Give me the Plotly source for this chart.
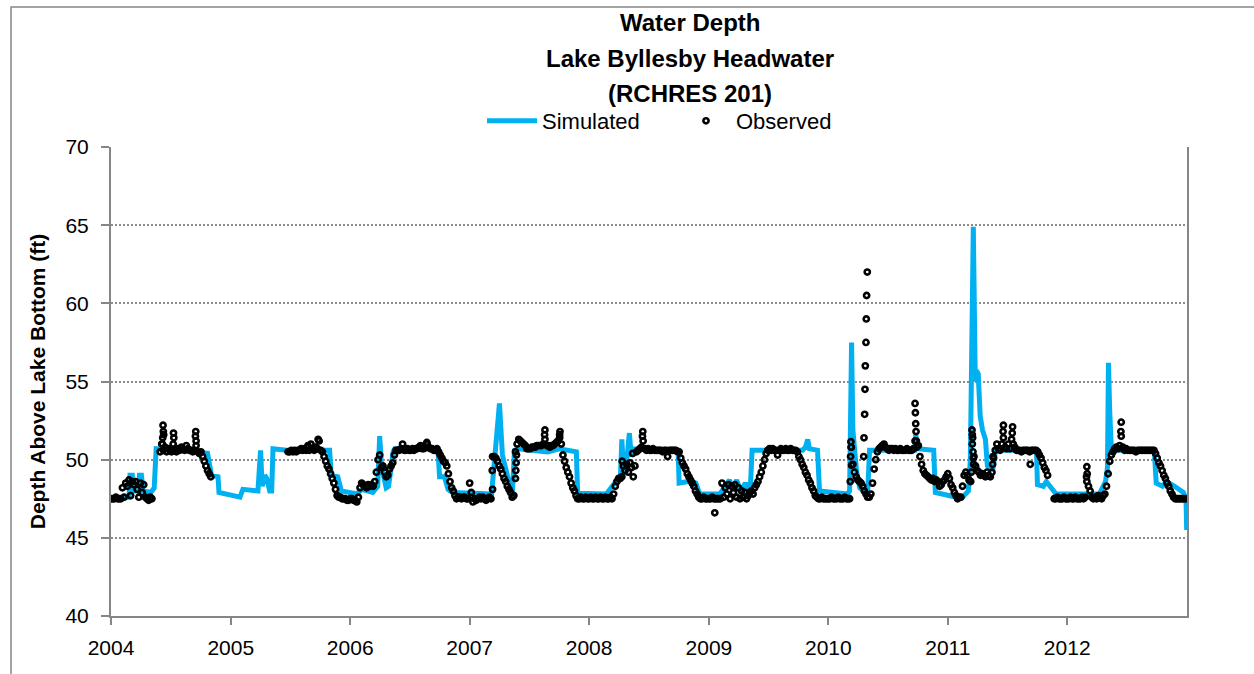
import pandas as pd
import plotly.graph_objects as go

# ---------------- data ----------------
year_labels = ["2004", "2005", "2006", "2007", "2008", "2009", "2010", "2011", "2012"]
title_lines = ["Water Depth", "Lake Byllesby Headwater", "(RCHRES 201)"]

sim_dates = [
    "2004-01-01", "2004-02-25", "2004-02-28", "2004-03-06", "2004-03-09", "2004-03-25", "2004-03-28",
    "2004-04-03", "2004-04-08", "2004-05-02", "2004-05-12", "2004-05-18", "2004-07-15", "2004-09-30",
    "2004-10-22", "2004-11-03", "2004-11-23", "2004-11-26",
    "2005-01-29", "2005-02-07", "2005-03-25", "2005-04-02", "2005-04-07", "2005-04-15", "2005-04-21",
    "2005-04-30", "2005-05-06", "2005-05-10", "2005-06-20", "2005-10-30", "2005-11-04", "2005-11-24",
    "2005-12-05",
    "2006-01-21", "2006-02-05", "2006-03-11", "2006-03-26", "2006-04-01", "2006-04-07", "2006-04-21",
    "2006-04-28", "2006-05-07", "2006-05-12", "2006-05-17", "2006-09-26", "2006-10-01", "2006-10-16",
    "2006-10-27", "2006-11-10",
    "2007-03-09", "2007-03-18", "2007-04-02", "2007-04-11", "2007-04-27", "2007-05-11", "2007-05-18",
    "2007-05-28", "2007-08-27", "2007-10-02", "2007-11-23", "2007-11-27",
    "2008-02-23", "2008-03-12", "2008-03-24", "2008-04-06", "2008-04-10", "2008-04-15", "2008-04-24",
    "2008-05-03", "2008-05-09", "2008-05-15", "2008-09-29", "2008-10-02", "2008-10-28", "2008-11-03",
    "2008-11-22", "2008-12-04",
    "2009-02-03", "2009-02-18", "2009-03-05", "2009-03-14", "2009-03-27", "2009-04-08", "2009-04-23",
    "2009-05-02", "2009-05-08", "2009-05-13", "2009-10-14", "2009-10-23", "2009-10-30", "2009-11-04",
    "2009-11-29", "2009-12-05",
    "2010-03-01", "2010-03-07", "2010-03-13", "2010-03-17", "2010-03-28", "2010-04-07", "2010-04-22",
    "2010-05-01", "2010-05-07", "2010-09-22", "2010-09-25", "2010-10-01", "2010-11-19", "2010-11-24",
    "2011-01-27", "2011-02-15", "2011-03-05", "2011-03-11", "2011-03-20", "2011-03-26", "2011-03-29",
    "2011-04-04", "2011-04-10", "2011-04-17", "2011-04-26", "2011-05-02", "2011-05-18", "2011-05-27",
    "2011-09-29", "2011-10-02", "2011-10-20", "2011-10-29", "2011-11-13", "2011-11-28",
    "2012-04-08", "2012-04-21", "2012-04-27", "2012-05-03", "2012-05-06", "2012-05-10", "2012-05-15",
    "2012-09-23", "2012-09-29", "2012-10-18", "2012-10-30", "2012-11-24", "2012-12-21", "2012-12-29",
    "2012-12-31",
]
sim_vals = [
    47.5, 47.6, 49.0, 49.0, 48.0, 48.0, 49.0,
    49.0, 48.0, 47.9, 48.2, 50.7, 50.6, 50.5,
    50.4, 49.0, 48.9, 47.9,
    47.6, 48.1, 48.0, 50.6, 48.3, 49.0, 48.8,
    48.0, 48.0, 50.7, 50.6, 50.6, 49.0, 48.9,
    48.0,
    47.8, 48.1, 47.9, 48.3, 51.5, 49.5, 48.2,
    48.3, 49.6, 50.5, 50.7, 50.7, 48.9, 48.9,
    48.1, 47.9,
    47.8, 50.2, 53.6, 50.3, 48.9, 47.7, 50.6,
    50.7, 50.5, 50.7, 50.5, 47.85,
    47.8, 48.3, 48.7, 49.0, 51.3, 49.3, 49.7,
    51.7, 50.2, 50.7, 50.6, 48.5, 48.6, 48.7,
    48.5, 47.8,
    47.8, 48.2, 48.7, 48.0, 48.7, 48.0, 48.5,
    48.1, 48.3, 50.6, 50.6, 50.8, 51.3, 50.7,
    50.6, 48.0,
    47.8, 48.0, 57.5, 51.9, 49.3, 48.2, 47.9,
    47.8, 50.6, 50.6, 51.6, 50.7, 50.6, 47.9,
    47.6, 47.6, 48.0, 50.0, 64.9, 55.0, 55.7,
    55.5, 52.8, 51.9, 51.3, 49.6, 49.3, 50.6,
    50.6, 48.4, 48.3, 48.6, 48.2, 47.8,
    47.8, 48.3, 48.6, 49.5, 56.2, 53.0, 50.6,
    50.6, 48.5, 48.3, 48.6, 48.3, 47.9, 47.5,
    45.5,
]

# Observed depth, one reading every 5 days from each start date
obs_2004a_start = "2004-01-01"
obs_2004a = [47.5, 47.5, 47.5, 47.6, 47.5, 47.5, 47.5, 48.2, 47.6, 48.5,
             48.3, 48.7, 47.7, 48.6, 48.4, 48.6, 48.1, 47.6, 48.5, 47.9,
             48.4, 47.6, 47.5, 47.4, 47.6, 47.5]
obs_2004b_start = "2004-05-30"
obs_2004b = [50.5, 51.0, 50.6, 50.8, 50.5, 50.7, 50.6, 50.5, 51.0, 50.6,
             50.5, 50.7, 50.6, 50.8, 50.7, 50.6, 50.9, 50.7, 50.6, 50.6,
             50.5, 50.6, 50.9, 50.5, 50.4, 50.5, 50.2, 49.9, 49.6, 49.3,
             49.1, 48.9]
obs_2005_start = "2005-06-25"
obs_2005 = [50.5, 50.5, 50.6, 50.5, 50.6, 50.5, 50.6, 50.6, 50.7, 50.6,
            50.7, 50.6, 50.8, 50.6, 51.0, 50.7, 50.6, 50.8, 50.7, 51.2,
            50.6, 50.5, 50.2, 49.9, 49.6, 49.4, 49.1, 48.8, 48.5, 48.1,
            47.7, 47.6, 47.6, 47.5, 47.5, 47.5, 47.4, 47.4]
obs_2006_start = "2006-01-01"
obs_2006 = [47.5, 47.5, 47.4, 47.4, 47.3, 47.6, 48.2, 48.5, 48.4, 48.3,
            48.2, 48.4, 48.3, 48.4, 48.3, 48.6, 49.2, 50.0, 50.3, 49.5,
            49.6, 49.2, 48.9, 49.0, 49.4, 49.6, 49.8, 50.3, 50.6, 50.6,
            50.6, 50.7, 51.0, 50.6, 50.6, 50.7, 50.6, 50.6, 50.7, 50.6,
            50.7, 50.7, 50.8, 50.9, 50.7, 50.7, 50.8, 51.0, 50.8, 50.7,
            50.7, 50.6, 50.6, 50.7, 50.5, 50.3, 50.1, 49.9, 49.8, 49.6,
            49.1, 48.6, 48.2, 48.0, 47.7, 47.5, 47.6, 47.6, 47.5, 47.6,
            47.6, 47.5, 47.5]
obs_2007_start = "2007-01-01"
obs_2007 = [48.5, 47.9, 47.3, 47.5, 47.4, 47.5, 47.6, 47.5, 47.6, 47.5,
            47.4, 47.5, 47.6, 47.5, 48.1, 50.2, 50.1, 49.9, 49.6, 49.4,
            49.1, 48.8, 48.6, 48.3, 48.1, 47.9, 47.6, 47.7, 50.5, 51.0,
            51.3, 51.2, 51.1, 51.0, 50.9, 50.7, 50.7, 50.7, 50.8, 50.8,
            50.8, 50.9, 50.9, 50.9, 50.9, 51.0, 51.3, 50.9, 50.9, 50.8,
            50.9, 50.9, 51.0, 51.1, 51.2, 51.4, 51.0, 50.3, 49.9, 49.5,
            49.2, 48.9, 48.5, 48.2, 48.0, 47.7, 47.5, 47.5, 47.6, 47.5,
            47.5, 47.6, 47.5]
obs_2008_start = "2008-01-01"
obs_2008 = [47.5, 47.6, 47.5, 47.5, 47.6, 47.5, 47.5, 47.6, 47.5, 47.5,
            47.6, 47.5, 47.5, 47.6, 47.5, 47.8, 48.3, 48.6, 48.8, 48.8,
            48.9, 49.6, 49.3, 49.7, 49.2, 49.8, 49.5, 48.9, 49.6, 50.5,
            50.6, 50.7, 50.8, 51.2, 50.7, 50.6, 50.7, 50.6, 50.6, 50.7,
            50.6, 50.6, 50.6, 50.6, 50.6, 50.5, 50.6, 50.6, 50.2, 50.6,
            50.6, 50.6, 50.6, 50.6, 50.5, 50.5, 50.1, 49.8, 49.6, 49.4,
            49.1, 48.9, 48.7, 48.5, 48.3, 48.0, 47.8, 47.6, 47.5, 47.5,
            47.6, 47.5, 47.5]
obs_2009_start = "2009-01-01"
obs_2009 = [47.5, 47.5, 47.6, 47.5, 47.5, 47.5, 47.5, 47.5, 48.5, 47.6,
            48.2, 47.8, 48.4, 47.5, 48.3, 47.9, 48.4, 47.6, 48.2, 47.5,
            48.0, 47.6, 47.9, 47.5, 47.7, 47.9, 48.0, 47.8, 48.2, 48.4,
            48.6, 48.9, 49.2, 49.6, 50.0, 50.4, 50.6, 50.7, 50.6, 50.7,
            50.6, 50.6, 50.3, 50.6, 50.7, 50.6, 50.6, 50.7, 50.6, 50.6,
            50.7, 50.6, 50.6, 50.6, 50.5, 50.2, 50.0, 49.7, 49.5, 49.2,
            49.0, 48.7, 48.5, 48.2, 48.0, 47.7, 47.6, 47.5, 47.5, 47.6,
            47.5, 47.5, 47.5]
obs_2010_start = "2010-01-01"
obs_2010 = [47.5, 47.5, 47.6, 47.5, 47.5, 47.5, 47.6, 47.5, 47.5, 47.5,
            47.6, 47.5, 47.5, 47.5, 50.8, 49.7, 49.2, 48.9, 48.7, 48.6,
            48.5, 48.3, 48.0, 47.8, 47.6, 47.6, 47.8, 48.5, 49.4, 50.0,
            50.5, 50.7, 50.8, 50.9, 51.0, 50.8, 50.7, 50.6, 50.7, 50.7,
            50.6, 50.7, 50.6, 50.6, 50.7, 50.6, 50.6, 50.6, 50.7, 50.6,
            50.6, 50.6, 50.7, 51.2, 50.8, 50.9, 50.2, 49.7, 49.3, 49.1,
            49.0, 48.9, 48.8, 48.7, 48.8, 48.6, 48.7, 48.6, 48.3, 48.4,
            48.6, 48.7, 48.9]
obs_2011a_start = "2011-01-01"
obs_2011a = [49.1, 48.8, 48.4, 48.2, 47.9, 47.7, 47.5, 47.6, 47.6, 48.3,
             49.0, 49.2, 49.0, 48.7, 48.6, 51.0, 50.2, 49.6, 49.3, 49.2,
             49.0, 49.1, 49.0, 48.9, 49.2, 49.0, 48.9, 49.2, 50.1, 50.6,
             51.0, 50.7, 50.6, 51.0, 51.4, 50.8, 50.7, 51.0, 50.7, 51.3,
             51.0, 50.8, 50.6, 50.6, 50.6, 50.5, 50.6, 50.6, 50.6, 50.6,
             50.5, 50.6, 50.6, 50.6, 50.6, 50.5, 50.3, 50.1, 49.8, 49.5,
             49.3, 49.0]
obs_2011b_start = "2011-11-22"
obs_2011b = [47.5, 47.5, 47.6, 47.5, 47.5, 47.5, 47.6, 47.5]
obs_2012_start = "2012-01-01"
obs_2012 = [47.5, 47.5, 47.6, 47.5, 47.5, 47.6, 47.5, 47.5, 47.5, 47.6,
            47.5, 47.6, 48.6, 48.3, 48.0, 47.6, 47.5, 47.6, 47.5, 47.7,
            47.6, 47.5, 47.7, 47.8, 48.3, 49.1, 49.9, 50.3, 50.5, 50.7,
            50.8, 50.7, 50.9, 51.5, 50.8, 50.6, 50.7, 50.6, 50.6, 50.6,
            50.6, 50.6, 50.5, 50.6, 50.6, 50.6, 50.6, 50.6, 50.6, 50.6,
            50.6, 50.6, 50.6, 50.6, 50.4, 50.1, 49.8, 49.6, 49.3, 49.0,
            48.8, 48.5, 48.3, 48.0, 47.8, 47.6, 47.5, 47.5, 47.5, 47.5,
            47.5, 47.5, 47.5]

# individual observed readings (spikes, columns and outliers)
obs_extra_dates = [
    "2004-06-06", "2004-06-07", "2004-06-08", "2004-06-09", "2004-06-10",
    "2004-07-10", "2004-07-11", "2004-09-15", "2004-09-16", "2004-09-17",
    "2005-08-25", "2005-09-25", "2006-08-23",
    "2007-03-11", "2007-03-12", "2007-05-21", "2007-05-22", "2007-05-23", "2007-05-24",
    "2007-08-18", "2007-08-19", "2007-10-03", "2007-10-04",
    "2008-04-11", "2008-05-13", "2008-06-12", "2008-06-13",
    "2009-01-19",
    "2010-03-09", "2010-03-10", "2010-03-11", "2010-03-12", "2010-03-13",
    "2010-04-19", "2010-04-20", "2010-04-22", "2010-04-23", "2010-04-24",
    "2010-04-26", "2010-04-27", "2010-04-28", "2010-04-30",
    "2010-09-23", "2010-09-24", "2010-09-25", "2010-09-26", "2010-09-27",
    "2011-03-14", "2011-03-16", "2011-03-17", "2011-03-18", "2011-03-19", "2011-03-20", "2011-03-21",
    "2011-05-18", "2011-05-19", "2011-06-19", "2011-06-20", "2011-07-17", "2011-07-18", "2011-09-10",
    "2012-02-29", "2012-03-01", "2012-03-02", "2012-06-13", "2012-06-14",
]
obs_extra_vals = [
    51.0, 51.4, 52.2, 51.8, 51.6,
    51.7, 51.4, 51.5, 51.8, 51.2,
    50.9, 51.3, 51.1,
    49.3, 50.2, 48.8, 49.3, 49.8, 50.3,
    51.6, 51.9, 51.6, 51.8,
    49.9, 50.4, 51.5, 51.8,
    46.6,
    48.6, 50.2, 51.15, 50.8, 49.65,
    50.2, 51.4, 52.9, 54.5, 56.0,
    57.5, 59.0, 60.5, 62.0,
    53.6, 53.0, 52.3, 51.8, 51.2,
    49.2, 51.9, 51.6, 51.4, 50.5, 50.1, 49.7,
    49.7, 50.2, 51.8, 52.2, 51.7, 52.1, 49.7,
    48.9, 49.55, 49.1, 51.8, 52.4,
]

# ---------------- assemble observed trace ----------------
obs_blocks = [
    (obs_2004a_start, obs_2004a), (obs_2004b_start, obs_2004b), (obs_2005_start, obs_2005),
    (obs_2006_start, obs_2006), (obs_2007_start, obs_2007), (obs_2008_start, obs_2008),
    (obs_2009_start, obs_2009), (obs_2010_start, obs_2010), (obs_2011a_start, obs_2011a),
    (obs_2011b_start, obs_2011b), (obs_2012_start, obs_2012),
]
obs_x, obs_y = [], []
for start, vals in obs_blocks:
    obs_x.extend(pd.date_range(start, periods=len(vals), freq="5D"))
    obs_y.extend(vals)
obs_x.extend(pd.to_datetime(obs_extra_dates))
obs_y.extend(obs_extra_vals)

FONT = "Liberation Sans, Arial, sans-serif"
GRAY = "#868686"
W, H = 1254, 674
ML, MR, MT, MB = 111, 67, 147, 58
PW, PH = W - ML - MR, H - MT - MB


def px_x(x):
    return (x - ML) / PW


def px_y(y):
    return (H - MB - y) / PH


fig = go.Figure()
fig.add_trace(go.Scatter(
    x=pd.to_datetime(sim_dates), y=sim_vals, mode="lines", name="Simulated",
    line=dict(color="#00B0F0", width=5),
))
fig.add_trace(go.Scatter(
    x=obs_x, y=obs_y, mode="markers", name="Observed",
    marker=dict(symbol="circle-open", size=5.2, color="black", line=dict(width=2.6, color="black")),
))

title_y = [22.5, 59, 93]
annotations = [
    dict(text=f"<b>{t}</b>", xref="paper", yref="paper", x=px_x(690), y=px_y(yy),
         xanchor="center", yanchor="middle", showarrow=False,
         font=dict(family=FONT, size=24, color="black"))
    for t, yy in zip(title_lines, title_y)
]

fig.update_layout(
    width=W, height=H,
    margin=dict(l=ML, r=MR, t=MT, b=MB),
    paper_bgcolor="white", plot_bgcolor="white",
    font=dict(family=FONT, size=21, color="black"),
    annotations=annotations,
    legend=dict(
        orientation="h", x=px_x(482), y=px_y(121), xanchor="left", yanchor="middle",
        itemwidth=50, entrywidth=129,
        font=dict(family=FONT, size=22, color="black"), bgcolor="rgba(0,0,0,0)",
    ),
    shapes=[dict(type="rect", xref="paper", yref="paper",
                 x0=px_x(11), x1=px_x(1300), y0=px_y(720), y1=px_y(7),
                 line=dict(color=GRAY, width=1.5), layer="below")],
)
fig.update_xaxes(
    type="date", range=["2004-01-01", "2013-01-01"],
    tickvals=[f"{y}-01-01" for y in year_labels], ticktext=year_labels,
    ticks="outside", ticklen=7, tickwidth=2, tickcolor=GRAY,
    showline=True, linecolor=GRAY, linewidth=2, showgrid=False, zeroline=False,
    tickfont=dict(family=FONT, size=21, color="black"), ticklabelstandoff=5,
)
fig.update_yaxes(
    range=[40, 70], tick0=40, dtick=5,
    ticks="outside", ticklen=8, tickwidth=2, tickcolor=GRAY,
    showline=True, mirror=True, linecolor=GRAY, linewidth=2,
    showgrid=True, gridcolor="#8c8c8c", griddash="2px,2px", gridwidth=1.5, zeroline=False,
    tickfont=dict(family=FONT, size=21, color="black"), ticklabelstandoff=8,
    title=dict(text="<b>Depth Above Lake Bottom (ft)</b>", standoff=14,
               font=dict(family=FONT, size=21, color="black")),
)

fig.write_html("out.html", config={"displayModeBar": False},
               post_script="document.body.style.margin='0';document.body.style.overflow='hidden';")
